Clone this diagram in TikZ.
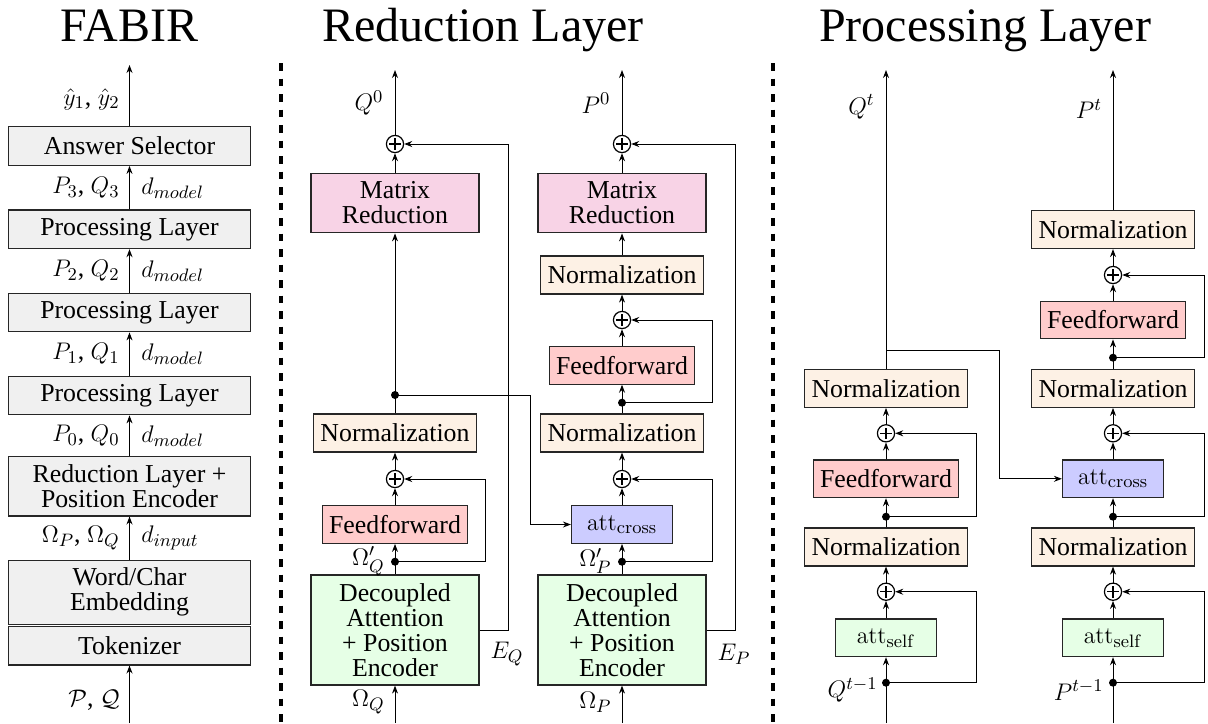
\documentclass[tikz,border=0pt]{standalone}
\usepackage[no-math]{fontspec}
\setmainfont{Liberation Serif}
\usetikzlibrary{arrows.meta}
\newcommand\boxfont{\fontsize{12.9}{12.5}\selectfont}
\newcommand\titlefont{\fontsize{24}{27}\selectfont}
\definecolor{cgray}{HTML}{F0F0F0}
\definecolor{cpink}{HTML}{F8D3E6}
\definecolor{cnorm}{HTML}{FDF1E5}
\definecolor{cff}{HTML}{FFCCCC}
\definecolor{ccross}{HTML}{CCCCFF}
\definecolor{cgreen}{HTML}{E6FFE6}
\begin{document}
\begin{tikzpicture}[x=0.5pt,y=-0.5pt,
  every node/.style={font=\boxfont},
  box/.style={draw=black!85, line width=0.6pt, inner sep=0pt, align=center},
  fabox/.style={box, fill=cgray},
  mrbox/.style={box, fill=cpink, minimum width=84pt, minimum height=29.8pt},
  normbox/.style={box, fill=cnorm, minimum width=81.5pt, minimum height=19pt},
  ffbox/.style={box, fill=cff, minimum width=72.8pt, minimum height=18.8pt},
  crossbox/.style={box, fill=ccross, minimum width=50.5pt, minimum height=18.8pt},
  selfbox/.style={box, fill=cgreen, minimum width=50.5pt, minimum height=18.8pt},
  decbox/.style={box, fill=cgreen, minimum width=84pt, minimum height=55pt},
  plusnode/.style={circle, draw, line width=0.6pt, minimum size=8.6pt, inner sep=0pt,
    path picture={\draw[line width=0.6pt]
      ([xshift=-2.9pt]path picture bounding box.center) -- ([xshift=2.9pt]path picture bounding box.center)
      ([yshift=-2.9pt]path picture bounding box.center) -- ([yshift=2.9pt]path picture bounding box.center);}},
  dotnode/.style={circle, fill, inner sep=0pt, minimum size=4pt},
  lbl/.style={inner sep=0.5pt},
  arr/.style={-{Stealth[length=4pt,width=3pt]}, line width=0.5pt},
  ln/.style={line width=0.5pt},
  sep/.style={line width=2pt, dash pattern=on 3.75pt off 4pt},
  ttl/.style={font=\titlefont, anchor=base}
]
\useasboundingbox (0,0) rectangle (1208,723);

% titles
\node[ttl] (t1) at (129.5,41) {FABIR};
\node[ttl] (t2) at (483,41) {Reduction Layer};
\node[ttl] (t3) at (985,41) {Processing Layer};

% separators
\draw[sep] (281,63) -- (281,723);
\draw[sep] (773,63) -- (773,723);

% ================= FABIR =================
\node[fabox, minimum width=121pt, minimum height=19.3pt] (ans) at (129.5,146) {Answer Selector};
\node[fabox, minimum width=121pt, minimum height=19.3pt] (pl3) at (129.5,229.3) {Processing Layer};
\node[fabox, minimum width=121pt, minimum height=19.3pt] (pl2) at (129.5,312.5) {Processing Layer};
\node[fabox, minimum width=121pt, minimum height=19.3pt] (pl1) at (129.5,395.5) {Processing Layer};
\node[fabox, minimum width=121pt, minimum height=29.6pt] (red) at (129.5,486.3) {Reduction Layer +\\Position Encoder};
\node[fabox, minimum width=121pt, minimum height=32.1pt] (emb) at (129.5,592.2) {Word/Char\\Embedding};
\node[fabox, minimum width=121pt, minimum height=19.1pt] (tok) at (129.5,645.8) {Tokenizer};
\coordinate (fout) at (129.5,65);
\coordinate (fin) at (129.5,723);
\draw[arr] (ans) -- (fout);
\draw[arr] (pl3) -- (ans);
\draw[arr] (pl2) -- (pl3);
\draw[arr] (pl1) -- (pl2);
\draw[arr] (red) -- (pl1);
\draw[arr] (emb) -- (red);
\draw[arr] (fin) -- (tok);
\node[lbl, anchor=east] (ly) at (121,99) {$\hat{y}_1$, $\hat{y}_2$};
\node[lbl, anchor=east] (l3) at (121,188) {$P_3$, $Q_3$};
\node[lbl, anchor=west] (d3) at (140,188) {$d_{model}$};
\node[lbl, anchor=east] (l2) at (121,271) {$P_2$, $Q_2$};
\node[lbl, anchor=west] (d2) at (140,271) {$d_{model}$};
\node[lbl, anchor=east] (l1) at (121,354) {$P_1$, $Q_1$};
\node[lbl, anchor=west] (d1) at (140,354) {$d_{model}$};
\node[lbl, anchor=east] (l0) at (121,436) {$P_0$, $Q_0$};
\node[lbl, anchor=west] (d0) at (140,436) {$d_{model}$};
\node[lbl, anchor=east] (lo) at (121,538) {$\Omega_P$, $\Omega_Q$};
\node[lbl, anchor=west] (di) at (140,538) {$d_{input}$};
\node[lbl, anchor=east] (lin) at (121,700) {$\mathcal{P}$, $\mathcal{Q}$};

% ================= Reduction Layer =================
% Q column (x=395)
\node[plusnode] (rq0) at (395,144) {};
\node[mrbox] (mrQ) at (395,203) {Matrix\\Reduction};
\node[dotnode] (dq1) at (395,395) {};
\node[normbox] (nQ) at (395,433) {Normalization};
\node[plusnode] (rq1) at (395,479) {};
\node[ffbox] (ffQ) at (395,524.5) {Feedforward};
\node[dotnode] (dq2) at (395,561.7) {};
\node[decbox] (decQ) at (395,630) {Decoupled\\Attention\\+ Position\\Encoder};
\coordinate (oQ0) at (395,70);
\coordinate (iQ0) at (395,723);
% P column (x=622)
\node[plusnode] (rp0) at (622,144) {};
\node[mrbox] (mrP) at (622,203) {Matrix\\Reduction};
\node[normbox] (nP1) at (622,275) {Normalization};
\node[plusnode] (rp1) at (622,320) {};
\node[ffbox] (ffP) at (622,365.3) {Feedforward};
\node[dotnode] (dp1) at (622,402.7) {};
\node[normbox] (nP2) at (622,433) {Normalization};
\node[plusnode] (rp2) at (622,479) {};
\node[crossbox] (crP) at (622,524.5) {$\mathrm{att}_{\mathrm{cross}}$};
\node[dotnode] (dp2) at (622,561.7) {};
\node[decbox] (decP) at (622,630) {Decoupled\\Attention\\+ Position\\Encoder};
\coordinate (oP0) at (622,70);
\coordinate (iP0) at (622,723);
% feedback columns
\coordinate (fq1) at (485,0);
\coordinate (fq0) at (508,0);
\coordinate (fcr) at (530.7,0);
\coordinate (fp1) at (712.7,0);
\coordinate (fp0) at (735,0);
% Q vertical flow
\draw[arr] (iQ0) -- (decQ);
\draw[ln] (decQ.north) -- (dq2.center);
\draw[arr] (dq2.center) -- (ffQ);
\draw[arr] (ffQ) -- (rq1);
\draw[arr] (rq1) -- (nQ);
\draw[ln] (nQ.north) -- (dq1.center);
\draw[arr] (dq1.center) -- (mrQ);
\draw[arr] (mrQ) -- (rq0);
\draw[arr] (rq0) -- (oQ0);
\draw[arr] (dq2.center) -- (dq2.center -| fq1) |- (rq1);
\draw[arr] (decQ.east) -- (decQ.east -| fq0) |- (rq0);
\draw[arr] (dq1.center) -- (dq1.center -| fcr) |- (crP);
% P vertical flow
\draw[arr] (iP0) -- (decP);
\draw[ln] (decP.north) -- (dp2.center);
\draw[arr] (dp2.center) -- (crP);
\draw[arr] (crP) -- (rp2);
\draw[arr] (rp2) -- (nP2);
\draw[ln] (nP2.north) -- (dp1.center);
\draw[arr] (dp1.center) -- (ffP);
\draw[arr] (ffP) -- (rp1);
\draw[arr] (rp1) -- (nP1);
\draw[arr] (nP1) -- (mrP);
\draw[arr] (mrP) -- (rp0);
\draw[arr] (rp0) -- (oP0);
\draw[arr] (dp2.center) -- (dp2.center -| fp1) |- (rp2);
\draw[arr] (dp1.center) -- (dp1.center -| fp1) |- (rp1);
\draw[arr] (decP.east) -- (decP.east -| fp0) |- (rp0);
% labels
\node[lbl] (lQ0) at (369,103) {$Q^0$};
\node[lbl] (lP0) at (596,103) {$P^0$};
\node[lbl, anchor=east] (lOq) at (386,561) {$\Omega'_Q$};
\node[lbl, anchor=east] (lOp) at (613,561) {$\Omega'_P$};
\node[lbl, anchor=east] (lIq) at (386,702) {$\Omega_Q$};
\node[lbl, anchor=east] (lIp) at (613,702) {$\Omega_P$};
\node[lbl] (lEq) at (507,654) {$E_Q$};
\node[lbl] (lEp) at (734,654) {$E_P$};

% ================= Processing Layer =================
% Q column (x=886)
\node[normbox] (pnQ2) at (886,388.3) {Normalization};
\node[plusnode] (ppq1) at (886,433.3) {};
\node[ffbox] (pffQ) at (886,478.8) {Feedforward};
\node[dotnode] (pdq1) at (886,516.7) {};
\node[normbox] (pnQ1) at (886,547) {Normalization};
\node[plusnode] (ppq2) at (886,591.7) {};
\node[selfbox] (psQ) at (886,637.8) {$\mathrm{att}_{\mathrm{self}}$};
\node[dotnode] (pdq2) at (886,682.7) {};
\coordinate (poQ) at (886,70);
\coordinate (piQ) at (886,723);
\coordinate (brQ) at (886,350.7);
% P column (x=1113)
\node[normbox] (pnP3) at (1113,229.5) {Normalization};
\node[plusnode] (ppp0) at (1113,275) {};
\node[ffbox] (pffP) at (1113,320) {Feedforward};
\node[dotnode] (pdp0) at (1113,357.7) {};
\node[normbox] (pnP2) at (1113,388.3) {Normalization};
\node[plusnode] (ppp1) at (1113,433.3) {};
\node[crossbox] (pcrP) at (1113,478.8) {$\mathrm{att}_{\mathrm{cross}}$};
\node[dotnode] (pdp1) at (1113,516.7) {};
\node[normbox] (pnP1) at (1113,547) {Normalization};
\node[plusnode] (ppp2) at (1113,591.7) {};
\node[selfbox] (psP) at (1113,637.8) {$\mathrm{att}_{\mathrm{self}}$};
\node[dotnode] (pdp2) at (1113,682.7) {};
\coordinate (poP) at (1113,70);
\coordinate (piP) at (1113,723);
% feedback columns
\coordinate (gq) at (976.7,0);
\coordinate (gcr) at (999.3,0);
\coordinate (gp) at (1204,0);
% Q flow
\draw[ln] (piQ) -- (pdq2.center);
\draw[arr] (pdq2.center) -- (psQ);
\draw[arr] (psQ) -- (ppq2);
\draw[arr] (ppq2) -- (pnQ1);
\draw[ln] (pnQ1.north) -- (pdq1.center);
\draw[arr] (pdq1.center) -- (pffQ);
\draw[arr] (pffQ) -- (ppq1);
\draw[arr] (ppq1) -- (pnQ2);
\draw[arr] (pnQ2) -- (poQ);
\draw[arr] (pdq2.center) -- (pdq2.center -| gq) |- (ppq2);
\draw[arr] (pdq1.center) -- (pdq1.center -| gq) |- (ppq1);
\draw[arr] (brQ) -- (brQ -| gcr) |- (pcrP);
% P flow
\draw[ln] (piP) -- (pdp2.center);
\draw[arr] (pdp2.center) -- (psP);
\draw[arr] (psP) -- (ppp2);
\draw[arr] (ppp2) -- (pnP1);
\draw[ln] (pnP1.north) -- (pdp1.center);
\draw[arr] (pdp1.center) -- (pcrP);
\draw[arr] (pcrP) -- (ppp1);
\draw[arr] (ppp1) -- (pnP2);
\draw[ln] (pnP2.north) -- (pdp0.center);
\draw[arr] (pdp0.center) -- (pffP);
\draw[arr] (pffP) -- (ppp0);
\draw[arr] (ppp0) -- (pnP3);
\draw[arr] (pnP3) -- (poP);
\draw[arr] (pdp2.center) -- (pdp2.center -| gp) |- (ppp2);
\draw[arr] (pdp1.center) -- (pdp1.center -| gp) |- (ppp1);
\draw[arr] (pdp0.center) -- (pdp0.center -| gp) |- (ppp0);
% labels
\node[lbl] (lQt) at (861.5,107) {$Q^t$};
\node[lbl] (lPt) at (1089,109) {$P^t$};
\node[lbl, anchor=east] (lQt1) at (879,690) {$Q^{t-1}$};
\node[lbl, anchor=east] (lPt1) at (1105,690) {$P^{t-1}$};
\end{tikzpicture}
\end{document}
